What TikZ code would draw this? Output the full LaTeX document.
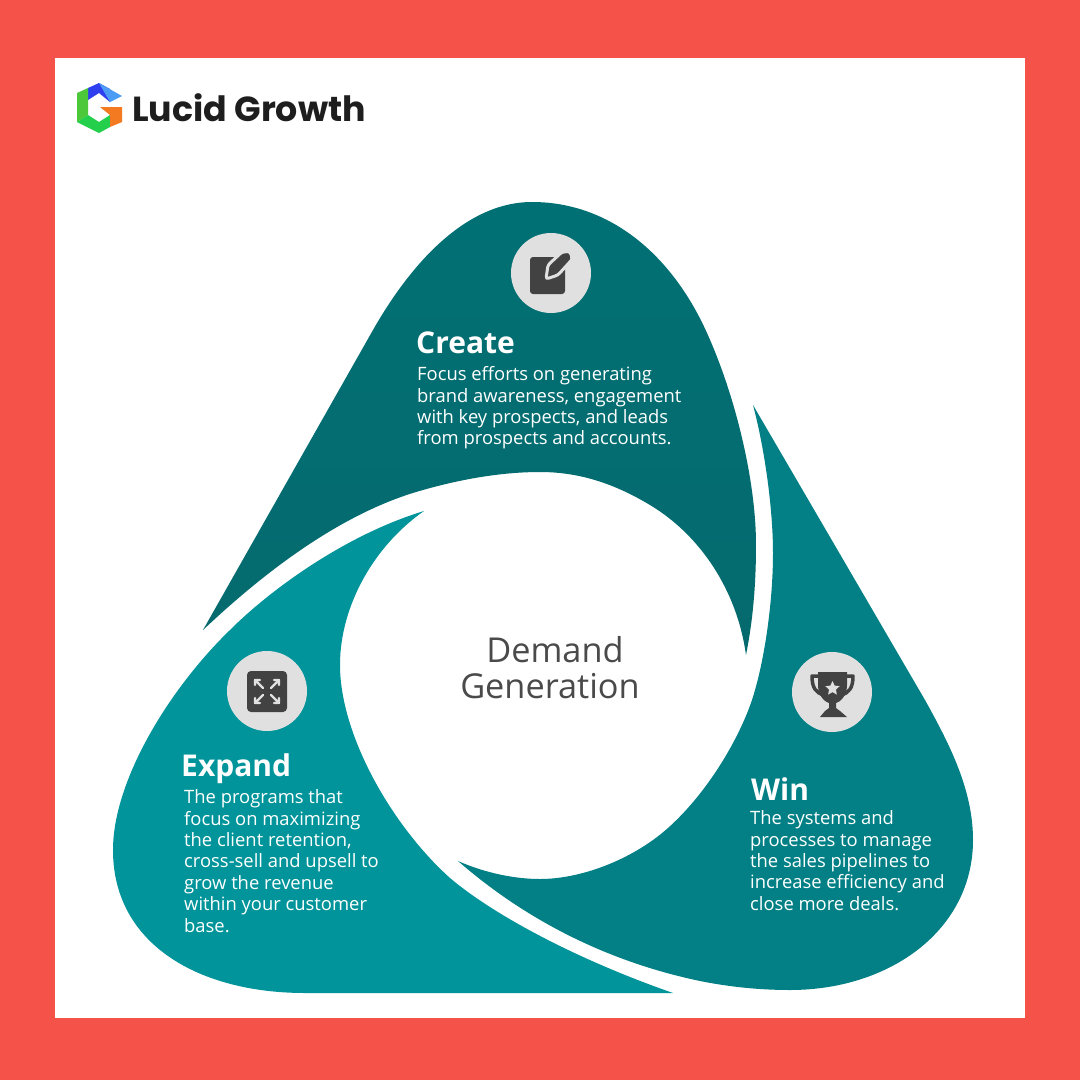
\documentclass[tikz,border=0pt]{standalone}
\usepackage{fontspec}
\setmainfont{Open Sans}
\newfontfamily\logofont{Poppins}
\definecolor{lgframe}{HTML}{F5524A}
\definecolor{lgcreate}{HTML}{056A6E}
\definecolor{lgcreatetop}{HTML}{017074}
\definecolor{lgwin}{HTML}{028085}
\definecolor{lgexpand}{HTML}{01949A}
\definecolor{lgdisc}{HTML}{E0E0E0}
\definecolor{lgicon}{HTML}{424242}
\definecolor{lgtext}{HTML}{4A4A4A}
\definecolor{lgink}{HTML}{1E1E1E}
\definecolor{lgblue}{HTML}{2F3FF0}
\definecolor{lgsky}{HTML}{4C9CF5}
\definecolor{lggreen}{HTML}{4CC83A}
\definecolor{lglime}{HTML}{24CF4C}
\definecolor{lgorange}{HTML}{F47A22}
\usetikzlibrary{positioning}
\begin{document}
\begin{tikzpicture}[
  x=1pt, y=-1pt,
  petal/.style={draw=none},
  disc/.style={circle, fill=lgdisc, minimum size=80pt, inner sep=0pt},
  heading/.style={anchor=base west, inner sep=0pt, text=white, font=\fontsize{30}{30}\selectfont\bfseries},
  body/.style={anchor=north west, inner sep=0pt, align=left, text=white, font=\fontsize{18.4}{21.4}\selectfont},
  centretext/.style={inner sep=0pt, text=lgtext, font=\fontsize{34.3}{36}\selectfont},
  glyph/.style={fill=lgicon, draw=none},
  lightglyph/.style={draw=lgdisc, line width=2.4pt, line cap=round, line join=round}
]
\useasboundingbox (0,0) rectangle (1080,1080);
\fill[lgframe] (0,0) rectangle (1080,1080);
\fill[white] (55,58) rectangle (1025,1018);
% petals
\path[petal, top color=lgcreatetop, bottom color=lgcreate]
  (203,630) -- (373,330) .. controls (410,265) and (465,202) .. (532,202)
  .. controls (610,202) and (672,255) .. (707,333)
  .. controls (735,395) and (756,480) .. (756,545)
  .. controls (756,590) and (752,625) .. (746,655)
  .. controls (737,590) and (700,535) .. (650,505)
  .. controls (615,484) and (580,472) .. (540,472)
  .. controls (505,472) and (465,478) .. (423,490)
  .. controls (350,510) and (275,562) .. (203,630) -- cycle;
\path[petal, fill=lgwin]
  (753,405) -- (925,700) .. controls (950,745) and (973,790) .. (973,840)
  .. controls (973,930) and (890,990) .. (790,990)
  .. controls (760,990) and (730,987) .. (700,981)
  .. controls (600,960) and (520,915) .. (458,861)
  .. controls (485,873) and (515,879) .. (540,879)
  .. controls (575,879) and (618,865) .. (653,840)
  .. controls (695,810) and (735,750) .. (752,700)
  .. controls (765,660) and (773,600) .. (773,553)
  .. controls (773,510) and (765,450) .. (753,405) -- cycle;
\path[petal, fill=lgexpand]
  (424,511) .. controls (375,545) and (340,605) .. (340,665)
  .. controls (340,735) and (392,826) .. (450,878)
  .. controls (490,912) and (570,957) .. (673,993)
  -- (305,993) .. controls (200,993) and (113,945) .. (113,850)
  .. controls (113,780) and (170,688) .. (230,630)
  .. controls (270,590) and (345,535) .. (424,511) -- cycle;
% create
\node[disc] (creatediscs) at (551,273) {};
\fill[glyph, rounded corners=3pt] (530,257) rectangle (565,294);
\filldraw[draw=lgdisc, fill=lgicon, line width=3pt, rounded corners=2.5pt]
  (546,279) -- (548,265) -- (562,252) -- (570,251.5) -- (572.5,259) -- (558,275) -- cycle;
\node[heading] (createhead) at (416,353) {Create};
\node[body] (createbody) at (417,366.5) {Focus efforts on generating\\brand awareness, engagement\\with key prospects, and leads\\from prospects and accounts.};
% win
\node[disc] (windisc) at (832,692) {};
\draw[lgicon, line width=3.5pt, line join=round] (820,676) -- (812,676) .. controls (812,688) and (816,693) .. (824,695);
\draw[lgicon, line width=3.5pt, line join=round] (844,676) -- (853,676) .. controls (853,688) and (849,693) .. (841,695);
\fill[glyph] (818,672) -- (847,672) -- (847,685) .. controls (847,696) and (840,702) .. (836,703)
  -- (836,708) -- (840,711) -- (847,717) -- (820,717) -- (825,711) -- (829,708) -- (829,703)
  .. controls (825,702) and (818,696) .. (818,685) -- cycle;
\fill[lgdisc] (832.5,681) -- (834.6,685.6) -- (839.6,686.2) -- (835.9,689.6) -- (836.9,694.6)
  -- (832.5,692.1) -- (828.1,694.6) -- (829.1,689.6) -- (825.4,686.2) -- (830.4,685.6) -- cycle;
\node[heading] (winhead) at (751,800) {Win};
\node[body] (winbody) at (750,810.5) {The systems and\\processes to manage\\the sales pipelines to\\increase efficiency and\\close more deals.};
% expand
\node[disc] (expanddisc) at (267,691) {};
\fill[glyph, rounded corners=4pt] (247,671) rectangle (287,712);
\draw[lightglyph] (255,680) -- (263,688) (255,685) -- (255,680) -- (260,680);
\draw[lightglyph] (279,680) -- (271,688) (274,680) -- (279,680) -- (279,685);
\draw[lightglyph] (255,703) -- (263,695) (255,698) -- (255,703) -- (260,703);
\draw[lightglyph] (279,703) -- (271,695) (274,703) -- (279,703) -- (279,698);
\node[heading] (expandhead) at (181,776) {Expand};
\node[body] (expandbody) at (184,789.5) {The programs that\\focus on maximizing\\the client retention,\\cross-sell and upsell to\\grow the revenue\\within your customer\\base.};
% centre
\node[centretext] (demand) at (555,650) {Demand};
\node[centretext] (generation) at (550,686) {Generation};
% logo
\fill[lgblue] (88,88) -- (99,83) -- (110,89) -- (110,102) -- (99,93) -- (88,100) -- cycle;
\fill[lgsky] (99,83) -- (122,96) -- (110,102) -- cycle;
\fill[lggreen] (77,93) -- (88,88) -- (88,115) -- (77,122) -- cycle;
\fill[lglime] (77,122) -- (88,115) -- (99,122) -- (110,115) -- (110,127) -- (99,133) -- cycle;
\fill[lgorange] (100,107) -- (122,107) -- (122,122) -- (110,127) -- (110,115) -- cycle;
\node[anchor=base west, inner sep=0pt, text=lgink, font=\logofont\fontsize{34.8}{34.8}\selectfont\bfseries] (logotext) at (132,121) {Lucid Growth};
\end{tikzpicture}
\end{document}
